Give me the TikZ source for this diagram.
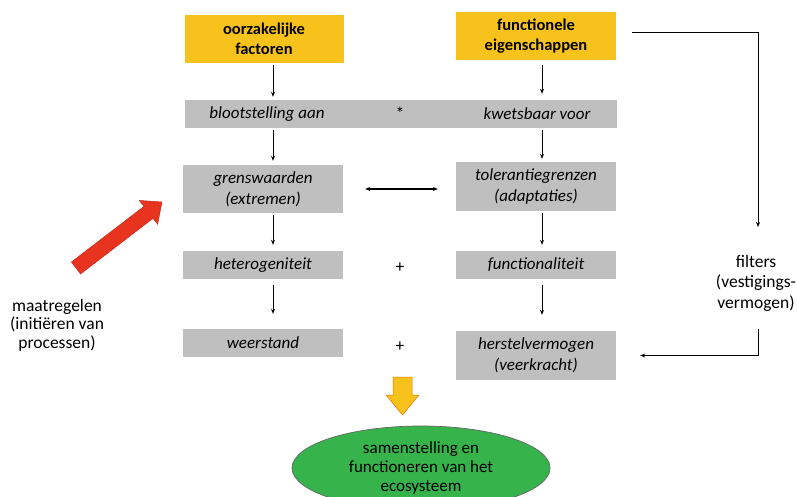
\documentclass[tikz,border=0pt]{standalone}
\usepackage{fontspec}
\setmainfont{Carlito}
\usetikzlibrary{arrows.meta,shapes.geometric,calc}
\definecolor{ylw}{HTML}{F8C21C}
\definecolor{gry}{HTML}{BFBFBF}
\definecolor{grn}{HTML}{36B34A}
\definecolor{rd}{HTML}{E8331F}
\begin{document}
\begin{tikzpicture}[x=1pt,y=-1pt,
 ybox/.style={fill=ylw, minimum width=159pt, minimum height=48pt, align=center, font=\fontsize{16.5}{20}\selectfont\bfseries, inner sep=0pt},
 gbox/.style={fill=gry, minimum width=160pt, align=center, font=\fontsize{17}{21}\selectfont\itshape, inner sep=0pt},
 lbl/.style={font=\fontsize{17.5}{20.5}\selectfont, align=center, inner sep=0pt},
 ilbl/.style={font=\fontsize{17}{21}\selectfont\itshape, align=center, inner sep=0pt},
 arr/.style={-{Stealth[length=5pt,width=4pt]}, line width=1pt},
 darr/.style={{Stealth[length=5pt,width=4pt]}-{Stealth[length=5pt,width=4pt]}, line width=1pt},
]
\useasboundingbox (0,0) rectangle (797,497);
\fill[white] (0,0) rectangle (797,497);
\coordinate (cl) at (273,0);
\coordinate (cr) at (542,0);

\node[ybox] (y1) at (264,39) {oorzakelijke\\factoren};
\node[ybox, minimum width=160pt] (y2) at (536,36) {functionele\\eigenschappen};
\node[gbox, minimum width=432pt, minimum height=28pt] (bar) at (401,114) {};
\node[ilbl] (bl) at (267,114) {blootstelling aan};
\node[lbl] (ast) at (400,113) {*};
\node[ilbl] (kw) at (537,114) {kwetsbaar voor};

\node[gbox, minimum height=48pt] (gw) at (263,189) {grenswaarden\\(extremen)};
\node[gbox, minimum height=49pt] (tg) at (536,186.5) {tolerantiegrenzen\\(adaptaties)};
\node[gbox, minimum height=28pt] (ht) at (263,265) {heterogeniteit};
\node[gbox, minimum height=28pt] (fu) at (536,265) {functionaliteit};
\node[gbox, minimum height=28pt] (ws) at (263,343) {weerstand};
\node[gbox, minimum height=49pt] (hv) at (536,355.5) {herstelvermogen\\(veerkracht)};
\node[lbl] (p1) at (400,268) {+};
\node[lbl] (p2) at (400,347) {+};

\draw[arr, shorten <=2pt, shorten >=3pt] (y1.south -| cl) -- (bar.north -| cl);
\draw[arr, shorten <=5pt, shorten >=6pt] (y2.south -| cr) -- (bar.north -| cr);
\draw[arr, shorten <=2pt, shorten >=4pt] (bar.south -| cl) -- (gw.north -| cl);
\draw[arr, shorten <=2pt, shorten >=3pt] (bar.south -| cr) -- (tg.north -| cr);
\draw[arr, shorten <=2pt, shorten >=6pt] (gw.south -| cl) -- (ht.north -| cl);
\draw[arr, shorten <=2pt, shorten >=6pt] (tg.south -| cr) -- (fu.north -| cr);
\draw[arr, shorten <=6pt, shorten >=15pt] (ht.south -| cl) -- (ws.north -| cl);
\draw[arr, shorten <=6pt, shorten >=16pt] (fu.south -| cr) -- (hv.north -| cr);
\draw[darr, shorten <=22pt, shorten >=18pt] (gw.east) -- (gw.east -| tg.west);

\node[lbl] (ft) at (756,283) {filters\\(vestigings-\\vermogen)};
\coordinate (fa) at (758,227);
\coordinate (fb) at (758,329);
\draw[arr, shorten <=16pt] ($(y2.east)+(0,-3)$) -| (fa);
\draw[arr, shorten >=24pt] (fb) |- (hv.east);

\node[lbl, font=\fontsize{17.5}{18.5}\selectfont] (mt) at (57,325) {maatregelen\\(initiëren van\\processen)};
\coordinate (rt) at (76,268);
\coordinate (rp) at (162,202);
\coordinate (rb) at ($(rp)!17pt!(rt)$);
\filldraw[fill=rd, draw=rd!85!black, line width=0.5pt]
  ($(rt)!7.5pt!90:(rp)$) -- ($(rb)!7.5pt!-90:(rt)$) -- ($(rb)!15pt!-90:(rt)$) -- (rp)
  -- ($(rb)!15pt!90:(rt)$) -- ($(rb)!7.5pt!90:(rt)$) -- ($(rt)!7.5pt!-90:(rp)$) -- cycle;

\filldraw[fill=ylw, draw=orange!90!black, line width=0.5pt]
  (393,377) -- (412,377) -- (412,395) -- (419,395) -- (402.5,415) -- (386,395) -- (393,395) -- cycle;

\node[ellipse, fill=grn, draw=black!60, line width=0.7pt, minimum width=258pt, minimum height=84pt, inner sep=0pt, font=\fontsize{17}{19}\selectfont, align=center] (el) at (421,468) {samenstelling en\\functioneren van het\\ecosysteem};
\end{tikzpicture}
\end{document}
